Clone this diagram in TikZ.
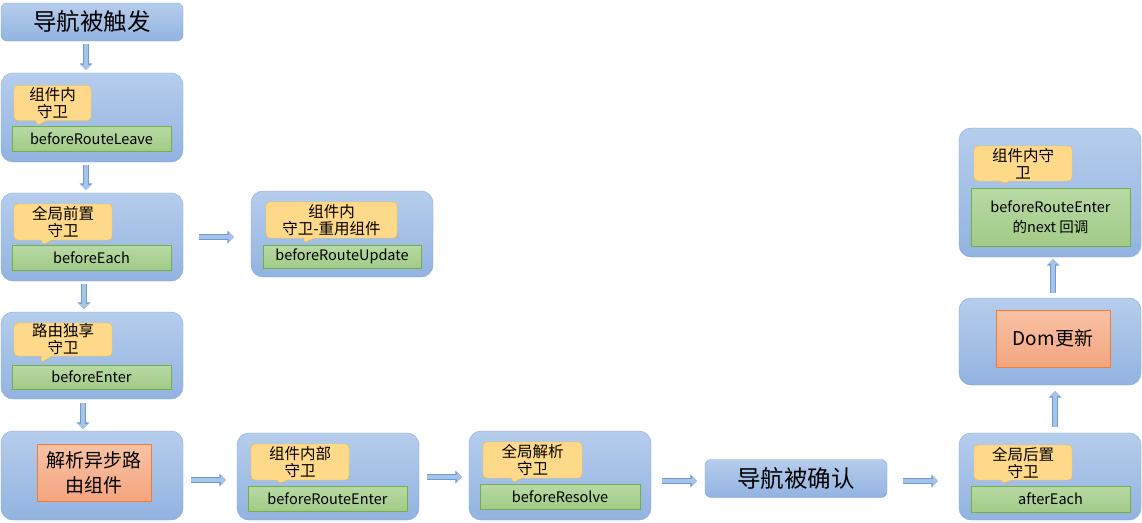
\documentclass[tikz,border=0pt]{standalone}
\usepackage{fontspec}
\setmainfont{Noto Sans CJK SC}
\usetikzlibrary{arrows.meta,shapes.callouts}
\definecolor{boxtop}{HTML}{B6CDEC}
\definecolor{boxbot}{HTML}{92B3E0}
\definecolor{boxline}{HTML}{7EA5DA}
\definecolor{guardfill}{HTML}{FFD98A}
\definecolor{guardline}{HTML}{FFC21C}
\definecolor{hooktop}{HTML}{B8D9A4}
\definecolor{hookbot}{HTML}{A2CB87}
\definecolor{hookline}{HTML}{72AE4A}
\definecolor{tasktop}{HTML}{F8C2A5}
\definecolor{taskbot}{HTML}{F4A57F}
\definecolor{taskline}{HTML}{ED7D31}
\definecolor{arrowfill}{HTML}{A6C4EA}
\definecolor{arrowline}{HTML}{6E9AD3}
\begin{document}
\begin{tikzpicture}[x=1pt, y=-1pt,
  box/.style={draw=boxline, top color=boxtop, bottom color=boxbot, rounded corners=12pt, minimum width=182pt, inner sep=0pt},
  title/.style={box, rounded corners=6pt, minimum height=38pt, font=\fontsize{23.5}{28}\selectfont},
  guard/.style={rectangle callout, draw=guardline, fill=guardfill, rounded corners=4pt, callout pointer width=10pt, inner sep=0pt, minimum height=35pt, align=center, font=\fontsize{15.5}{17}\selectfont},
  hook/.style={draw=hookline, top color=hooktop, bottom color=hookbot, minimum width=159pt, minimum height=25pt, inner sep=0pt, align=center, font=\fontsize{14.5}{20}\selectfont},
  task/.style={draw=taskline, top color=tasktop, bottom color=taskbot, minimum width=114pt, minimum height=57pt, inner sep=0pt, align=center, font=\fontsize{19}{25}\selectfont},
  arrow/.style={line width=4.5pt, draw=arrowfill, -{Triangle[width=10pt,length=5pt]}, preaction={draw=arrowline, line width=6pt, -{Triangle[width=12.5pt,length=6.5pt]}}},
]
\useasboundingbox (0,0) rectangle (1142,522);

% left column
\node[title] (trig) at (92,22) {导航被触发};

\node[box, minimum height=89pt] (leave) at (92,117.5) {};
\node[guard, minimum width=77pt, callout absolute pointer={(37,126)}] (leaveG) at (52.5,103) {组件内\\守卫};
\node[hook] (leaveH) at (91.5,138.5) {beforeRouteLeave};

\node[box, minimum height=88pt] (each) at (92,237) {};
\node[guard, minimum width=98pt, minimum height=36pt, callout absolute pointer={(42,245)}] (eachG) at (63,222) {全局前置\\守卫};
\node[hook] (eachH) at (91.5,257.5) {beforeEach};

\node[box, minimum height=87pt] (enter) at (92,355.5) {};
\node[guard, minimum width=98pt, minimum height=33pt, callout absolute pointer={(40,363)}] (enterG) at (63,339.5) {路由独享\\守卫};
\node[hook, minimum height=24pt] (enterH) at (91.5,377) {beforeEnter};

\node[box, minimum height=89pt] (async) at (92,475.5) {};
\node[task] (asyncT) at (94,472.5) {解析异步路\\由组件};

% middle
\node[box, minimum height=86pt] (update) at (342,234) {};
\node[guard, minimum width=131pt, minimum height=36pt, callout absolute pointer={(303,243)}] (updateG) at (331.5,220) {组件内\\守卫-重用组件};
\node[hook, minimum width=158pt, minimum height=23pt] (updateH) at (342,256.5) {beforeRouteUpdate};

\node[box, minimum height=87pt] (rEnter) at (328,476.5) {};
\node[guard, minimum width=98pt, minimum height=36pt, callout absolute pointer={(278,484)}] (rEnterG) at (300,462) {组件内部\\守卫};
\node[hook] (rEnterH) at (327.5,498.5) {beforeRouteEnter};

\node[box, minimum height=89pt] (resolve) at (560,475.5) {};
\node[guard, minimum width=99pt, minimum height=36pt, callout absolute pointer={(512,483)}] (resolveG) at (532.5,460) {全局解析\\守卫};
\node[hook, minimum width=160pt] (resolveH) at (560,496.5) {beforeResolve};

\node[title] (confirm) at (796,478.5) {导航被确认};

% right column
\node[box, minimum height=87pt] (after) at (1050,476.5) {};
\node[guard, minimum width=98pt, callout absolute pointer={(1002,484)}] (afterG) at (1023,462.5) {全局后置\\守卫};
\node[hook, minimum height=26pt] (afterH) at (1050.5,499) {afterEach};

\node[box, minimum height=87pt] (dom) at (1050,341.5) {};
\node[task] (domT) at (1053,338.5) {Dom更新};

\node[box, minimum height=129pt] (next) at (1050,192.5) {};
\node[guard, minimum width=98pt, callout absolute pointer={(1002,184)}] (nextG) at (1023,163.5) {组件内守\\卫};
\node[hook, minimum height=58pt] (nextH) at (1050.5,217) {beforeRouteEnter\\的next 回调};

% arrows
\draw[arrow, shorten <=3pt, shorten >=3pt] ([xshift=-6pt]trig.south) -- ([xshift=-6pt]leave.north);
\draw[arrow, shorten <=3pt, shorten >=3pt] ([xshift=-6pt]leave.south) -- ([xshift=-6pt]each.north);
\draw[arrow, shorten <=3pt, shorten >=3pt] ([xshift=-8pt]each.south) -- ([xshift=-8pt]enter.north);
\draw[arrow, shorten <=4pt, shorten >=2pt] ([xshift=-9pt]enter.south) -- ([xshift=-9pt]async.north);
\draw[arrow, shorten <=16pt, shorten >=17pt] (each.east) -- (each.east -| update.west);
\draw[arrow, shorten <=8pt, shorten >=11pt] ([yshift=-4.5pt]async.east) -- ([yshift=-4.5pt]async.east -| rEnter.west);
\draw[arrow, shorten <=8pt, shorten >=7pt] ([yshift=-0.5pt]rEnter.east) -- ([yshift=-0.5pt]rEnter.east -| resolve.west);
\draw[arrow, shorten <=11pt, shorten >=8pt] ([yshift=-5.5pt]resolve.east) -- ([yshift=-5.5pt]resolve.east -| confirm.west);
\draw[arrow, shorten <=16pt, shorten >=21pt] ([yshift=-2.5pt]confirm.east) -- ([yshift=-2.5pt]confirm.east -| after.west);
\draw[arrow, shorten <=6pt, shorten >=6pt] ([xshift=5pt]after.north) -- ([xshift=5pt]after.north |- dom.south);
\draw[arrow, shorten <=5pt, shorten >=2pt] ([xshift=3pt]dom.north) -- ([xshift=3pt]dom.north |- next.south);
\end{tikzpicture}
\end{document}
